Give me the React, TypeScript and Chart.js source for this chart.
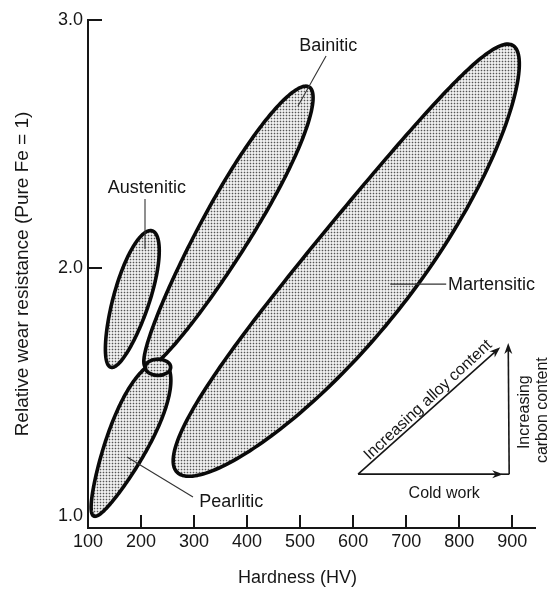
import React, { useEffect, useRef } from "react";
import { Chart, registerables } from "chart.js";

Chart.register(...registerables);

// ---- axes ----
const X_TICKS = [100, 200, 300, 400, 500, 600, 700, 800, 900];
const Y_TICKS = [1.0, 2.0, 3.0];
const X_MIN = 100;
const X_MAX = 943;
const Y_MIN = 0.952;
const Y_MAX = 3.0;

// ---- regions given by the two ends of their long axis (HV, relative wear) ----
const REGION_NAMES = ["Martensitic", "Bainitic", "Austenitic", "Pearlitic"];
const LOW_TIP_HV = [270, 209, 143, 111];
const LOW_TIP_WEAR = [1.173, 1.6, 1.6, 1.0];
const HIGH_TIP_HV = [903, 517, 221, 242];
const HIGH_TIP_WEAR = [2.895, 2.73, 2.15, 1.62];
const HALF_SPREAD_HV = [100, 48, 34, 40];
const TAPER = [-0.12, 0.18, 0.1, 0.3];
const BOW_HV = [46, 0, 0, 0];

// overlap between pearlitic and bainitic
const JUNCTION_HV = 232;
const JUNCTION_WEAR = 1.6;
const JUNCTION_HALF_HV = 24;
const JUNCTION_HALF_WEAR = 0.033;

// ---- region labels and leader lines ----
const LABEL_HV = [779, 553, 211, 370];
const LABEL_WEAR = [1.931, 2.895, 2.323, 1.056];
const LEADER_FROM_HV = [670, 496, 207.5, 173.6];
const LEADER_FROM_WEAR = [1.935, 2.653, 2.077, 1.238];
const LEADER_TO_HV = [775.5, 549, 207.5, 298];
const LEADER_TO_WEAR = [1.935, 2.855, 2.278, 1.077];

// ---- trend triangle ----
const TREND_ORIGIN = [609.4, 1.169];
const TREND_CORNER = [894.3, 1.169];
const COLD_WORK_TIP = [883, 1.169];
const CARBON_TIP = [892.5, 1.698];
const ALLOY_TIP = [877.4, 1.681];
const TREND_TEXTS = ["Cold work", "Increasing alloy content", "Increasing", "carbon content"];
const TREND_TEXT_HV = [771.7, 741.5, 922.6, 956.6];
const TREND_TEXT_WEAR = [1.089, 1.468, 1.419, 1.427];

const X_TITLE = "Hardness (HV)";
const Y_TITLE = "Relative wear resistance (Pure Fe = 1)";

const FONT = '"Liberation Sans", Arial, Helvetica, sans-serif';
const INK = "#161616";

function makePattern(ctx: CanvasRenderingContext2D) {
  const pc = document.createElement("canvas");
  pc.width = 3;
  pc.height = 3;
  const p = pc.getContext("2d")!;
  p.fillStyle = "#eeeeee";
  p.fillRect(0, 0, 3, 3);
  p.fillStyle = "#c8c8c8";
  p.fillRect(0, 1, 3, 1);
  p.fillRect(1, 0, 1, 3);
  p.fillStyle = "#555555";
  p.fillRect(1, 1, 1, 1);
  return ctx.createPattern(pc, "repeat")!;
}

function eggPath(
  ctx: CanvasRenderingContext2D,
  ax: number, ay: number, bx: number, by: number,
  w: number, s: number, bow: number
) {
  const cx = (ax + bx) / 2;
  const cy = (ay + by) / 2;
  const dx = bx - ax;
  const dy = by - ay;
  const len = Math.hypot(dx, dy);
  const L = len / 2;
  const ux = dx / len;
  const uy = dy / len;
  const nx = -uy;
  const ny = ux;
  ctx.beginPath();
  const N = 240;
  for (let i = 0; i <= N; i++) {
    const th = (i / N) * Math.PI * 2;
    const c = Math.cos(th);
    const sn = Math.sin(th);
    const h = w * sn * (1 + s * c);
    const x = cx + ux * L * c + nx * h + bow * (1 - c * c);
    const y = cy + uy * L * c + ny * h;
    if (i === 0) ctx.moveTo(x, y);
    else ctx.lineTo(x, y);
  }
  ctx.closePath();
}

function arrow(ctx: CanvasRenderingContext2D, x0: number, y0: number, x1: number, y1: number) {
  const a = Math.atan2(y1 - y0, x1 - x0);
  const len = 11;
  const hw = 4;
  ctx.beginPath();
  ctx.moveTo(x0, y0);
  ctx.lineTo(x1 - Math.cos(a) * len * 0.6, y1 - Math.sin(a) * len * 0.6);
  ctx.stroke();
  ctx.beginPath();
  ctx.moveTo(x1, y1);
  ctx.lineTo(x1 - Math.cos(a) * len - Math.sin(a) * hw, y1 - Math.sin(a) * len + Math.cos(a) * hw);
  ctx.lineTo(x1 - Math.cos(a) * len * 0.7, y1 - Math.sin(a) * len * 0.7);
  ctx.lineTo(x1 - Math.cos(a) * len + Math.sin(a) * hw, y1 - Math.sin(a) * len - Math.cos(a) * hw);
  ctx.closePath();
  ctx.fill();
}

const drawPlugin = {
  id: "wearDiagram",
  afterDraw(chart: any) {
    const ctx: CanvasRenderingContext2D = chart.ctx;
    const xs = chart.scales.x;
    const ys = chart.scales.y;
    const px = (v: number) => xs.getPixelForValue(v);
    const py = (v: number) => ys.getPixelForValue(v);
    const area = chart.chartArea;
    const pattern = makePattern(ctx);

    ctx.save();
    // inward tick marks
    ctx.strokeStyle = INK;
    ctx.lineWidth = 2;
    X_TICKS.forEach((v) => {
      if (v === X_MIN) return;
      const x = Math.round(px(v));
      ctx.beginPath();
      ctx.moveTo(x, area.bottom);
      ctx.lineTo(x, area.bottom - 13);
      ctx.stroke();
    });
    Y_TICKS.forEach((v) => {
      if (v === 1.0) return;
      const y = Math.round(py(v));
      ctx.beginPath();
      ctx.moveTo(area.left, y);
      ctx.lineTo(area.left + 14, y);
      ctx.stroke();
    });

    const outline = () => {
      ctx.fillStyle = pattern;
      ctx.fill();
      ctx.lineWidth = 3.6;
      ctx.strokeStyle = "#0a0a0a";
      ctx.lineJoin = "round";
      ctx.stroke();
    };

    REGION_NAMES.forEach((_, i) => {
      const w = Math.abs(px(LOW_TIP_HV[i] + HALF_SPREAD_HV[i]) - px(LOW_TIP_HV[i]));
      const bow = px(LOW_TIP_HV[i] + BOW_HV[i]) - px(LOW_TIP_HV[i]);
      eggPath(
        ctx,
        px(LOW_TIP_HV[i]), py(LOW_TIP_WEAR[i]),
        px(HIGH_TIP_HV[i]), py(HIGH_TIP_WEAR[i]),
        w, TAPER[i], bow
      );
      outline();
    });

    // junction
    const jx = px(JUNCTION_HV);
    const jy = py(JUNCTION_WEAR);
    const jrx = Math.abs(px(JUNCTION_HV + JUNCTION_HALF_HV) - jx);
    const jry = Math.abs(py(JUNCTION_WEAR + JUNCTION_HALF_WEAR) - jy);
    ctx.beginPath();
    ctx.ellipse(jx, jy, jrx, jry, 0, 0, Math.PI * 2);
    outline();

    // leader lines and labels
    ctx.lineWidth = 1.1;
    ctx.strokeStyle = "#333";
    REGION_NAMES.forEach((name, i) => {
      ctx.beginPath();
      ctx.moveTo(px(LEADER_FROM_HV[i]), py(LEADER_FROM_WEAR[i]));
      ctx.lineTo(px(LEADER_TO_HV[i]), py(LEADER_TO_WEAR[i]));
      ctx.stroke();
      ctx.fillStyle = INK;
      ctx.font = `18px ${FONT}`;
      ctx.textBaseline = "middle";
      ctx.textAlign = name === "Martensitic" ? "left" : "center";
      ctx.fillText(name, px(LABEL_HV[i]), py(LABEL_WEAR[i]));
    });

    // trend triangle
    ctx.strokeStyle = INK;
    ctx.fillStyle = INK;
    ctx.lineWidth = 1.6;
    const ox = px(TREND_ORIGIN[0]);
    const oy = py(TREND_ORIGIN[1]);
    const cx = px(TREND_CORNER[0]);
    const cy = py(TREND_CORNER[1]);
    arrow(ctx, ox, oy, px(COLD_WORK_TIP[0]), py(COLD_WORK_TIP[1]));
    ctx.beginPath();
    ctx.moveTo(px(COLD_WORK_TIP[0]) - 2, cy);
    ctx.lineTo(cx, cy);
    ctx.stroke();
    arrow(ctx, cx, cy, px(CARBON_TIP[0]), py(CARBON_TIP[1]));
    arrow(ctx, ox, oy, px(ALLOY_TIP[0]), py(ALLOY_TIP[1]));

    ctx.font = `16px ${FONT}`;
    ctx.textAlign = "center";
    ctx.textBaseline = "middle";
    ctx.fillText(TREND_TEXTS[0], px(TREND_TEXT_HV[0]), py(TREND_TEXT_WEAR[0]));
    const ang = Math.atan2(py(ALLOY_TIP[1]) - oy, px(ALLOY_TIP[0]) - ox);
    ctx.save();
    ctx.translate(px(TREND_TEXT_HV[1]), py(TREND_TEXT_WEAR[1]));
    ctx.rotate(ang - 0.02);
    ctx.fillText(TREND_TEXTS[1], 0, 0);
    ctx.restore();
    for (let k = 2; k < 4; k++) {
      ctx.save();
      ctx.translate(px(TREND_TEXT_HV[k]), py(TREND_TEXT_WEAR[k]));
      ctx.rotate(-Math.PI / 2);
      ctx.fillText(TREND_TEXTS[k], 0, 0);
      ctx.restore();
    }

    // x axis title
    ctx.font = `18px ${FONT}`;
    ctx.textAlign = "center";
    ctx.textBaseline = "middle";
    ctx.fillText(X_TITLE, (area.left + area.right) / 2 - 14, 578);
    ctx.restore();
  },
};

export default function App() {
  const ref = useRef<HTMLCanvasElement | null>(null);
  useEffect(() => {
    if (!ref.current) return;
    const chart = new Chart(ref.current, {
      type: "scatter",
      data: {
        datasets: REGION_NAMES.map((name, i) => ({
          label: name,
          data: [
            { x: LOW_TIP_HV[i], y: LOW_TIP_WEAR[i] },
            { x: HIGH_TIP_HV[i], y: HIGH_TIP_WEAR[i] },
          ],
          pointRadius: 0,
          showLine: false,
        })),
      },
      options: {
        animation: false,
        responsive: true,
        maintainAspectRatio: false,
        events: [],
        layout: { padding: { top: 20, right: 15, left: 0, bottom: 0 } },
        plugins: { legend: { display: false }, tooltip: { enabled: false } },
        scales: {
          x: {
            type: "linear",
            min: X_MIN,
            max: X_MAX,
            grid: { display: false, drawTicks: false },
            border: { display: true, color: INK, width: 2 },
            ticks: {
              autoSkip: false,
              maxRotation: 0,
              padding: 3,
              color: INK,
              font: { family: FONT, size: 18 },
              callback: (v: any) => String(v),
            },
            afterBuildTicks: (s: any) => {
              s.ticks = X_TICKS.map((v) => ({ value: v }));
            },
            afterFit: (s: any) => {
              s.height = 61;
            },
          },
          y: {
            type: "linear",
            min: Y_MIN,
            max: Y_MAX,
            grid: { display: false, drawTicks: false },
            border: { display: true, color: INK, width: 2 },
            ticks: {
              autoSkip: false,
              padding: 5,
              color: INK,
              font: { family: FONT, size: 18 },
              callback: (v: any) => Number(v).toFixed(1),
            },
            afterBuildTicks: (s: any) => {
              s.ticks = Y_TICKS.map((v) => ({ value: v }));
            },
            afterFit: (s: any) => {
              s.width = 88;
            },
            title: {
              display: true,
              text: Y_TITLE,
              color: INK,
              font: { family: FONT, size: 19 },
              padding: { top: 11, bottom: 0 },
            },
          },
        },
      },
      plugins: [drawPlugin],
    } as any);
    return () => chart.destroy();
  }, []);
  return (
    <div style={{ position: "fixed", left: 0, top: 0, width: 550, height: 589, background: "#fff" }}>
      <canvas ref={ref} />
    </div>
  );
}
